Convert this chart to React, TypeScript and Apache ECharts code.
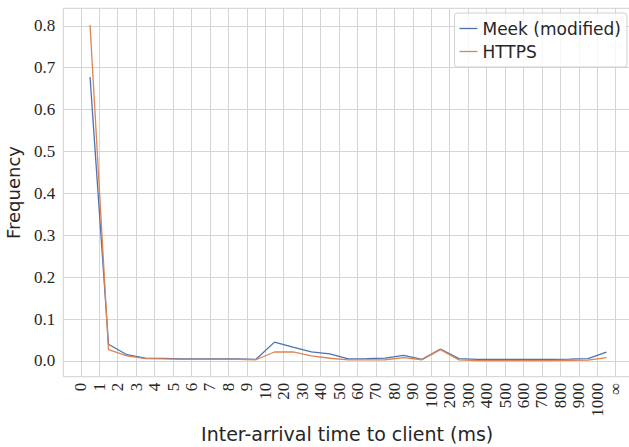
import React, { useEffect, useRef } from "react";
import * as echarts from "echarts";

const tickLabels = ["0","1","2","3","4","5","6","7","8","9","10","20","30","40","50","60","70","80","90","100","200","300","400","500","600","700","800","900","1000","∞"];
const yTicks = [0, 0.1, 0.2, 0.3, 0.4, 0.5, 0.6, 0.7, 0.8];
const meek = [0.678, 0.040, 0.015, 0.007, 0.006, 0.005, 0.005, 0.005, 0.005, 0.004, 0.045, 0.033, 0.022, 0.017, 0.005, 0.0055, 0.007, 0.0135, 0.004, 0.0285, 0.0055, 0.004, 0.004, 0.004, 0.004, 0.004, 0.0045, 0.0055, 0.021];
const https = [0.802, 0.027, 0.012, 0.0055, 0.005, 0.004, 0.004, 0.004, 0.004, 0.003, 0.0215, 0.0215, 0.012, 0.0065, 0.0025, 0.0025, 0.003, 0.008, 0.003, 0.027, 0.0025, 0.001, 0.001, 0.001, 0.001, 0.001, 0.0015, 0.002, 0.008];

export default function App() {
  const ref = useRef<HTMLDivElement>(null);
  useEffect(() => {
    document.body.style.margin = "0";
    const chart = echarts.init(ref.current!, null, { renderer: "svg" });
    const tickIdx = tickLabels.map((_, i) => i);
    const serif = "Liberation Serif";
    const sans = "DejaVu Sans";
    chart.setOption({
      animation: false,
      backgroundColor: "#ffffff",
      grid: { left: 63.3, right: -2, top: 8.3, bottom: 70.3, show: true, borderColor: "#d0d0d0", borderWidth: 1, containLabel: false, outerBoundsMode: "none" },
      legend: {
        orient: "vertical",
        right: 2,
        top: 13,
        icon: "rect",
        itemWidth: 18,
        itemHeight: 1.3,
        itemGap: 6,
        padding: [7, 6, 7, 5],
        borderColor: "#d0d0d0",
        borderWidth: 1,
        borderRadius: 3,
        backgroundColor: "rgba(255,255,255,0.8)",
        textStyle: { fontFamily: sans, fontSize: 17, color: "#262626" },
        data: ["Meek (modified)", "HTTPS"],
      },
      xAxis: {
        type: "value",
        min: -0.95,
        max: 29.83,
        name: "Inter-arrival time to client (ms)",
        nameLocation: "middle",
        nameGap: 46,
        nameTextStyle: { fontFamily: sans, fontSize: 19, color: "#262626" },
        axisLine: { show: false },
        axisTick: { show: false, customValues: tickIdx },
        axisLabel: {
          customValues: tickIdx,
          rotate: 90,
          margin: 6,
          fontFamily: serif,
          fontSize: 17,
          color: "#262626",
          formatter: (v: number) => tickLabels[Math.round(v)] ?? "",
        },
        splitLine: { show: true, lineStyle: { color: "#d5d5d5", width: 1 } },
      },
      yAxis: {
        type: "value",
        min: -0.0375,
        max: 0.8418,
        name: "Frequency",
        nameLocation: "middle",
        nameGap: 41,
        nameTextStyle: { fontFamily: sans, fontSize: 18, color: "#262626" },
        axisLine: { show: false },
        axisTick: { show: false, customValues: yTicks },
        axisLabel: {
          customValues: yTicks,
          margin: 8,
          fontFamily: serif,
          fontSize: 17,
          color: "#262626",
          formatter: (v: number) => v.toFixed(1),
        },
        splitLine: { show: true, lineStyle: { color: "#d5d5d5", width: 1 } },
      },
      series: [
        {
          name: "Meek (modified)",
          type: "line",
          symbol: "none",
          data: meek.map((v, i) => [i + 0.5, v]),
          lineStyle: { color: "#4c72b0", width: 1.3 },
          itemStyle: { color: "#4c72b0" },
        },
        {
          name: "HTTPS",
          type: "line",
          symbol: "none",
          data: https.map((v, i) => [i + 0.5, v]),
          lineStyle: { color: "#dd8452", width: 1.3 },
          itemStyle: { color: "#dd8452" },
        },
      ],
    });
    return () => chart.dispose();
  }, []);
  return <div ref={ref} style={{ width: 629, height: 447 }} />;
}
